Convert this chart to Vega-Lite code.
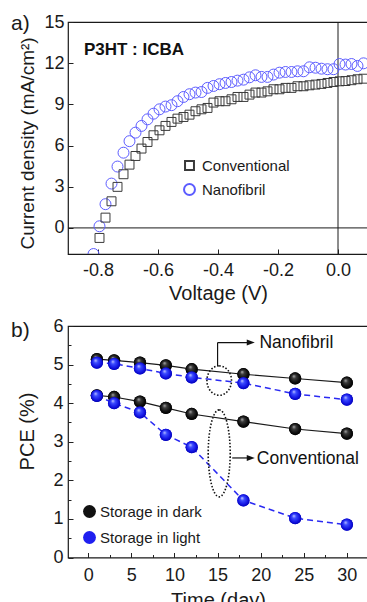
{
  "$schema": "https://vega.github.io/schema/vega-lite/v6.json",
  "padding": {"left": 10, "top": 11, "right": 0, "bottom": 0},
  "bounds": "flush",
  "spacing": 72,
  "resolve": {"scale": {"color": "independent", "shape": "independent", "size": "independent"}},
  "config": {
    "font": "Liberation Sans",
    "view": {"stroke": "#1a1a1a", "strokeWidth": 1.2},
    "axis": {
      "domain": false,
      "grid": false,
      "tickColor": "#222222",
      "tickWidth": 1,
      "tickSize": -5,
      "labelFont": "Liberation Sans",
      "labelFontSize": 18,
      "labelColor": "#1a1a1a",
      "labelOverlap": false,
      "titleFont": "Liberation Sans",
      "titleFontSize": 20,
      "titleFontWeight": "normal",
      "titleColor": "#1a1a1a"
    },
    "legend": {"labelFont": "Liberation Sans", "labelFontSize": 15, "labelColor": "#1a1a1a"}
  },
  "datasets": {
    "jv": [
      {"device": "Nanofibril", "V": -0.815, "J": -1.9},
      {"device": "Nanofibril", "V": -0.795, "J": 0.12},
      {"device": "Nanofibril", "V": -0.775, "J": 1.73},
      {"device": "Nanofibril", "V": -0.755, "J": 3.23},
      {"device": "Nanofibril", "V": -0.735, "J": 4.47},
      {"device": "Nanofibril", "V": -0.715, "J": 5.48},
      {"device": "Nanofibril", "V": -0.695, "J": 6.32},
      {"device": "Nanofibril", "V": -0.675, "J": 6.94},
      {"device": "Nanofibril", "V": -0.655, "J": 7.43},
      {"device": "Nanofibril", "V": -0.635, "J": 7.91},
      {"device": "Nanofibril", "V": -0.615, "J": 8.32},
      {"device": "Nanofibril", "V": -0.595, "J": 8.64},
      {"device": "Nanofibril", "V": -0.575, "J": 8.84},
      {"device": "Nanofibril", "V": -0.555, "J": 8.94},
      {"device": "Nanofibril", "V": -0.535, "J": 9.23},
      {"device": "Nanofibril", "V": -0.515, "J": 9.54},
      {"device": "Nanofibril", "V": -0.495, "J": 9.74},
      {"device": "Nanofibril", "V": -0.475, "J": 9.86},
      {"device": "Nanofibril", "V": -0.455, "J": 9.9},
      {"device": "Nanofibril", "V": -0.435, "J": 10.2},
      {"device": "Nanofibril", "V": -0.415, "J": 10.34},
      {"device": "Nanofibril", "V": -0.395, "J": 10.47},
      {"device": "Nanofibril", "V": -0.375, "J": 10.56},
      {"device": "Nanofibril", "V": -0.355, "J": 10.63},
      {"device": "Nanofibril", "V": -0.335, "J": 10.73},
      {"device": "Nanofibril", "V": -0.315, "J": 10.8},
      {"device": "Nanofibril", "V": -0.295, "J": 10.97},
      {"device": "Nanofibril", "V": -0.275, "J": 11.12},
      {"device": "Nanofibril", "V": -0.255, "J": 11.0},
      {"device": "Nanofibril", "V": -0.235, "J": 11.0},
      {"device": "Nanofibril", "V": -0.215, "J": 11.17},
      {"device": "Nanofibril", "V": -0.195, "J": 11.31},
      {"device": "Nanofibril", "V": -0.175, "J": 11.36},
      {"device": "Nanofibril", "V": -0.155, "J": 11.36},
      {"device": "Nanofibril", "V": -0.135, "J": 11.41},
      {"device": "Nanofibril", "V": -0.115, "J": 11.41},
      {"device": "Nanofibril", "V": -0.095, "J": 11.7},
      {"device": "Nanofibril", "V": -0.075, "J": 11.67},
      {"device": "Nanofibril", "V": -0.055, "J": 11.6},
      {"device": "Nanofibril", "V": -0.035, "J": 11.56},
      {"device": "Nanofibril", "V": -0.015, "J": 11.56},
      {"device": "Nanofibril", "V": 0.005, "J": 11.94},
      {"device": "Nanofibril", "V": 0.025, "J": 11.9},
      {"device": "Nanofibril", "V": 0.045, "J": 11.94},
      {"device": "Nanofibril", "V": 0.065, "J": 11.8},
      {"device": "Nanofibril", "V": 0.085, "J": 11.99},
      {"device": "Conventional", "V": -0.795, "J": -0.73},
      {"device": "Conventional", "V": -0.775, "J": 0.75},
      {"device": "Conventional", "V": -0.755, "J": 1.94},
      {"device": "Conventional", "V": -0.735, "J": 2.99},
      {"device": "Conventional", "V": -0.715, "J": 3.91},
      {"device": "Conventional", "V": -0.695, "J": 4.61},
      {"device": "Conventional", "V": -0.675, "J": 5.24},
      {"device": "Conventional", "V": -0.655, "J": 5.78},
      {"device": "Conventional", "V": -0.635, "J": 6.26},
      {"device": "Conventional", "V": -0.615, "J": 6.75},
      {"device": "Conventional", "V": -0.595, "J": 7.11},
      {"device": "Conventional", "V": -0.575, "J": 7.43},
      {"device": "Conventional", "V": -0.555, "J": 7.72},
      {"device": "Conventional", "V": -0.535, "J": 7.96},
      {"device": "Conventional", "V": -0.515, "J": 8.08},
      {"device": "Conventional", "V": -0.495, "J": 8.25},
      {"device": "Conventional", "V": -0.475, "J": 8.5},
      {"device": "Conventional", "V": -0.455, "J": 8.64},
      {"device": "Conventional", "V": -0.435, "J": 8.74},
      {"device": "Conventional", "V": -0.415, "J": 9.13},
      {"device": "Conventional", "V": -0.395, "J": 9.23},
      {"device": "Conventional", "V": -0.375, "J": 9.23},
      {"device": "Conventional", "V": -0.355, "J": 9.37},
      {"device": "Conventional", "V": -0.335, "J": 9.54},
      {"device": "Conventional", "V": -0.315, "J": 9.54},
      {"device": "Conventional", "V": -0.295, "J": 9.71},
      {"device": "Conventional", "V": -0.275, "J": 9.86},
      {"device": "Conventional", "V": -0.255, "J": 9.86},
      {"device": "Conventional", "V": -0.235, "J": 9.95},
      {"device": "Conventional", "V": -0.215, "J": 10.1},
      {"device": "Conventional", "V": -0.195, "J": 10.1},
      {"device": "Conventional", "V": -0.175, "J": 10.2},
      {"device": "Conventional", "V": -0.155, "J": 10.2},
      {"device": "Conventional", "V": -0.135, "J": 10.32},
      {"device": "Conventional", "V": -0.115, "J": 10.32},
      {"device": "Conventional", "V": -0.095, "J": 10.39},
      {"device": "Conventional", "V": -0.075, "J": 10.44},
      {"device": "Conventional", "V": -0.055, "J": 10.49},
      {"device": "Conventional", "V": -0.035, "J": 10.56},
      {"device": "Conventional", "V": -0.015, "J": 10.63},
      {"device": "Conventional", "V": 0.005, "J": 10.68},
      {"device": "Conventional", "V": 0.025, "J": 10.7},
      {"device": "Conventional", "V": 0.045, "J": 10.76},
      {"device": "Conventional", "V": 0.065, "J": 10.83},
      {"device": "Conventional", "V": 0.085, "J": 10.87}
    ],
    "pce": [
      {"storage": "Storage in dark", "device": "Nanofibril", "day": 1, "pce": 5.14},
      {"storage": "Storage in dark", "device": "Nanofibril", "day": 3, "pce": 5.11},
      {"storage": "Storage in dark", "device": "Nanofibril", "day": 6, "pce": 5.05},
      {"storage": "Storage in dark", "device": "Nanofibril", "day": 9, "pce": 4.98},
      {"storage": "Storage in dark", "device": "Nanofibril", "day": 12, "pce": 4.88},
      {"storage": "Storage in dark", "device": "Nanofibril", "day": 18, "pce": 4.75},
      {"storage": "Storage in dark", "device": "Nanofibril", "day": 24, "pce": 4.64},
      {"storage": "Storage in dark", "device": "Nanofibril", "day": 30, "pce": 4.53},
      {"storage": "Storage in dark", "device": "Conventional", "day": 1, "pce": 4.2},
      {"storage": "Storage in dark", "device": "Conventional", "day": 3, "pce": 4.16},
      {"storage": "Storage in dark", "device": "Conventional", "day": 6, "pce": 4.04},
      {"storage": "Storage in dark", "device": "Conventional", "day": 9, "pce": 3.88},
      {"storage": "Storage in dark", "device": "Conventional", "day": 12, "pce": 3.72},
      {"storage": "Storage in dark", "device": "Conventional", "day": 18, "pce": 3.52},
      {"storage": "Storage in dark", "device": "Conventional", "day": 24, "pce": 3.33},
      {"storage": "Storage in dark", "device": "Conventional", "day": 30, "pce": 3.21},
      {"storage": "Storage in light", "device": "Nanofibril", "day": 1, "pce": 5.05},
      {"storage": "Storage in light", "device": "Nanofibril", "day": 3, "pce": 5.02},
      {"storage": "Storage in light", "device": "Nanofibril", "day": 6, "pce": 4.9},
      {"storage": "Storage in light", "device": "Nanofibril", "day": 9, "pce": 4.77},
      {"storage": "Storage in light", "device": "Nanofibril", "day": 12, "pce": 4.67},
      {"storage": "Storage in light", "device": "Nanofibril", "day": 18, "pce": 4.52},
      {"storage": "Storage in light", "device": "Nanofibril", "day": 24, "pce": 4.24},
      {"storage": "Storage in light", "device": "Nanofibril", "day": 30, "pce": 4.09},
      {"storage": "Storage in light", "device": "Conventional", "day": 1, "pce": 4.19},
      {"storage": "Storage in light", "device": "Conventional", "day": 3, "pce": 4.0},
      {"storage": "Storage in light", "device": "Conventional", "day": 6, "pce": 3.76},
      {"storage": "Storage in light", "device": "Conventional", "day": 9, "pce": 3.18},
      {"storage": "Storage in light", "device": "Conventional", "day": 12, "pce": 2.86},
      {"storage": "Storage in light", "device": "Conventional", "day": 18, "pce": 1.48},
      {"storage": "Storage in light", "device": "Conventional", "day": 24, "pce": 1.02},
      {"storage": "Storage in light", "device": "Conventional", "day": 30, "pce": 0.85}
    ]
  },
  "vconcat": [
    {
      "width": 300,
      "height": 232,
      "layer": [
        {
          "data": {"values": [{}]},
          "mark": {"type": "rule", "color": "#1a1a1a", "strokeWidth": 1},
          "encoding": {"y": {"datum": 0, "type": "quantitative"}}
        },
        {
          "data": {"values": [{}]},
          "mark": {"type": "rule", "color": "#1a1a1a", "strokeWidth": 1},
          "encoding": {"x": {"datum": 0, "type": "quantitative"}}
        },
        {
          "data": {"name": "jv"},
          "mark": {"type": "point", "filled": false, "strokeWidth": 1, "opacity": 1, "clip": true},
          "encoding": {
            "x": {
              "field": "V",
              "type": "quantitative",
              "title": "Voltage (V)",
              "scale": {"domain": [-0.9, 0.1], "nice": false, "zero": false},
              "axis": {
                "values": [-0.8, -0.6, -0.4, -0.2, 0],
                "labelExpr": "datum.value === 0 ? '0.0' : '-' + format(-datum.value, '.1f')",
                "labelPadding": 12,
                "titlePadding": 4
              }
            },
            "y": {
              "field": "J",
              "type": "quantitative",
              "title": "Current density (mA/cm²)",
              "scale": {"domain": [-1.9, 15], "nice": false, "zero": false},
              "axis": {
                "values": [0, 3, 6, 9, 12, 15],
                "labelPadding": 9,
                "titlePadding": 6,
                "titleFontSize": 19,
                "titleY": 121
              }
            },
            "size": {
              "field": "device",
              "type": "nominal",
              "scale": {"domain": ["Conventional", "Nanofibril"], "range": [80, 120]},
              "legend": null
            },
            "color": {
              "field": "device",
              "type": "nominal",
              "scale": {"domain": ["Conventional", "Nanofibril"], "range": ["#3a3a3a", "#5c5cff"]},
              "legend": {
                "title": null,
                "orient": "none",
                "legendX": 114,
                "legendY": 136,
                "symbolSize": 170,
                "symbolStrokeWidth": 2,
                "rowPadding": 6,
                "labelOffset": 5,
                "padding": 0,
                "encode": {
                  "symbols": {
                    "update": {
                      "stroke": [
                        {"test": "datum.value === 'Nanofibril'", "value": "#1616cf"},
                        {"value": "#111111"}
                      ],
                      "size": {"value": 170}
                    }
                  }
                }
              }
            },
            "shape": {
              "field": "device",
              "type": "nominal",
              "scale": {"domain": ["Conventional", "Nanofibril"], "range": ["square", "circle"]},
              "legend": {
                "title": null,
                "orient": "none",
                "legendX": 114,
                "legendY": 136,
                "symbolSize": 170,
                "symbolStrokeWidth": 2,
                "rowPadding": 6,
                "labelOffset": 5,
                "padding": 0,
                "encode": {
                  "symbols": {
                    "update": {
                      "stroke": [
                        {"test": "datum.value === 'Nanofibril'", "value": "#1616cf"},
                        {"value": "#111111"}
                      ],
                      "size": {"value": 170}
                    }
                  }
                }
              }
            }
          }
        },
        {
          "data": {"values": [{}]},
          "mark": {
            "type": "text",
            "text": "P3HT : ICBA",
            "fontWeight": "bold",
            "fontSize": 17,
            "align": "left",
            "baseline": "alphabetic",
            "color": "#111111"
          },
          "encoding": {
            "x": {"datum": -0.847, "type": "quantitative"},
            "y": {"datum": 12.6, "type": "quantitative"}
          }
        },
        {
          "data": {"values": [{}]},
          "mark": {
            "type": "text",
            "text": "a)",
            "fontSize": 21,
            "align": "left",
            "baseline": "middle",
            "color": "#1a1a1a"
          },
          "encoding": {
            "x": {"datum": -1.09, "type": "quantitative"},
            "y": {"datum": 14.89, "type": "quantitative"}
          }
        }
      ]
    },
    {
      "width": 300,
      "height": 231.5,
      "encoding": {
        "x": {
          "field": "day",
          "type": "quantitative",
          "title": "Time (day)",
          "scale": {"domain": [-2.35, 32.45], "nice": false, "zero": false},
          "axis": {
            "values": [0, 2.5, 5, 7.5, 10, 12.5, 15, 17.5, 20, 22.5, 25, 27.5, 30],
            "labelExpr": "datum.value % 5 === 0 ? datum.label : ''",
            "tickSize": {"condition": {"test": "datum.value % 5 === 0", "value": -5}, "value": -3},
            "labelPadding": 14,
            "titlePadding": 4
          }
        },
        "y": {
          "field": "pce",
          "type": "quantitative",
          "title": "PCE (%)",
          "scale": {"domain": [0, 6], "nice": false, "zero": false},
          "axis": {
            "values": [0, 0.5, 1, 1.5, 2, 2.5, 3, 3.5, 4, 4.5, 5, 5.5, 6],
            "labelExpr": "datum.value % 1 === 0 ? format(datum.value, 'd') : ''",
            "tickSize": {"condition": {"test": "datum.value % 1 === 0", "value": -5}, "value": -3},
            "labelPadding": 10,
            "titlePadding": 15,
            "titleY": 105
          }
        }
      },
      "layer": [
        {
          "data": {"name": "pce"},
          "transform": [{"filter": "datum.storage === 'Storage in dark'"}],
          "mark": {"type": "line", "color": "#1a1a1a", "strokeWidth": 1.2},
          "encoding": {"detail": {"field": "device"}}
        },
        {
          "data": {"name": "pce"},
          "transform": [{"filter": "datum.storage === 'Storage in light'"}],
          "mark": {"type": "line", "color": "#2a2af2", "strokeWidth": 1.5, "strokeDash": [6, 4]},
          "encoding": {"detail": {"field": "device"}}
        },
        {
          "data": {"name": "pce"},
          "mark": {"type": "point", "filled": true, "size": 150, "opacity": 1, "strokeWidth": 0},
          "encoding": {
            "color": {
              "field": "storage",
              "type": "nominal",
              "scale": {"domain": ["Storage in dark", "Storage in light"], "range": ["#111111", "#1f1ff0"]},
              "legend": {
                "title": null,
                "orient": "none",
                "legendX": 14,
                "legendY": 178,
                "symbolType": "circle",
                "symbolSize": 165,
                "symbolStrokeWidth": 0,
                "rowPadding": 10,
                "labelOffset": 3,
                "padding": 0,
                "encode": {
                  "symbols": {
                    "update": {
                      "fill": [
                        {
                          "test": "datum.value === 'Storage in dark'",
                          "value": {
                            "gradient": "radial",
                            "x1": 0.38, "y1": 0.3, "r1": 0,
                            "x2": 0.5, "y2": 0.5, "r2": 0.55,
                            "stops": [
                              {"offset": 0, "color": "#b4b4b4"},
                              {"offset": 0.3, "color": "#3a3a3a"},
                              {"offset": 0.75, "color": "#0a0a0a"},
                              {"offset": 1, "color": "#000000"}
                            ]
                          }
                        },
                        {
                          "value": {
                            "gradient": "radial",
                            "x1": 0.38, "y1": 0.3, "r1": 0,
                            "x2": 0.5, "y2": 0.5, "r2": 0.55,
                            "stops": [
                              {"offset": 0, "color": "#cdd0ff"},
                              {"offset": 0.3, "color": "#3c4cff"},
                              {"offset": 0.75, "color": "#1010e0"},
                              {"offset": 1, "color": "#0000a0"}
                            ]
                          }
                        }
                      ]
                    }
                  }
                }
              }
            }
          }
        },
        {
          "data": {"name": "pce"},
          "mark": {"type": "point", "filled": true, "size": 150, "opacity": 1, "strokeWidth": 0},
          "encoding": {
            "fill": {
              "condition": {
                "test": "datum.storage === 'Storage in dark'",
                "value": {
                  "gradient": "radial",
                  "x1": 0.38, "y1": 0.3, "r1": 0,
                  "x2": 0.5, "y2": 0.5, "r2": 0.55,
                  "stops": [
                    {"offset": 0, "color": "#b4b4b4"},
                    {"offset": 0.3, "color": "#3a3a3a"},
                    {"offset": 0.75, "color": "#0a0a0a"},
                    {"offset": 1, "color": "#000000"}
                  ]
                }
              },
              "value": {
                "gradient": "radial",
                "x1": 0.38, "y1": 0.3, "r1": 0,
                "x2": 0.5, "y2": 0.5, "r2": 0.55,
                "stops": [
                  {"offset": 0, "color": "#cdd0ff"},
                  {"offset": 0.3, "color": "#3c4cff"},
                  {"offset": 0.75, "color": "#1010e0"},
                  {"offset": 1, "color": "#0000a0"}
                ]
              }
            }
          }
        },
        {
          "data": {"values": [{"day": 15.19, "pce": 4.585}]},
          "mark": {
            "type": "point",
            "shape": "M0,-1A0.837,1 0 1,1 0,1A0.837,1 0 1,1 0,-1Z",
            "size": 864,
            "filled": false,
            "opacity": 1,
            "stroke": "#111111",
            "strokeWidth": 1.6,
            "strokeDash": [1.5, 1.8]
          }
        },
        {
          "data": {"values": [{"day": 15.19, "pce": 2.7}]},
          "mark": {
            "type": "point",
            "shape": "M0,-1A0.253,1 0 1,1 0,1A0.253,1 0 1,1 0,-1Z",
            "size": 7569,
            "filled": false,
            "opacity": 1,
            "stroke": "#111111",
            "strokeWidth": 1.6,
            "strokeDash": [1.5, 1.8]
          }
        },
        {
          "data": {
            "values": [
              {"day": 15.0, "pce": 4.96, "day2": 15.0, "pce2": 5.57},
              {"day": 15.0, "pce": 5.57, "day2": 18.8, "pce2": 5.57},
              {"day": 16.7, "pce": 2.58, "day2": 18.8, "pce2": 2.58}
            ]
          },
          "mark": {"type": "rule", "color": "#111111", "strokeWidth": 1.2},
          "encoding": {
            "x2": {"field": "day2"},
            "y2": {"field": "pce2"}
          }
        },
        {
          "data": {"values": [{"day": 18.85, "pce": 5.57}, {"day": 18.85, "pce": 2.58}]},
          "mark": {
            "type": "point",
            "shape": "M-1,-0.75L1,0L-1,0.75Z",
            "size": 64,
            "filled": true,
            "opacity": 1,
            "color": "#111111"
          }
        },
        {
          "data": {
            "values": [
              {"day": 19.85, "pce": 5.57, "label": "Nanofibril"},
              {"day": 19.55, "pce": 2.56, "label": "Conventional"}
            ]
          },
          "mark": {
            "type": "text",
            "align": "left",
            "baseline": "middle",
            "fontSize": 17.5,
            "color": "#111111"
          },
          "encoding": {"text": {"field": "label"}}
        },
        {
          "data": {"values": [{"day": -8.96, "pce": 5.86, "label": "b)"}]},
          "mark": {
            "type": "text",
            "align": "left",
            "baseline": "middle",
            "fontSize": 21,
            "color": "#1a1a1a"
          },
          "encoding": {"text": {"field": "label"}}
        }
      ]
    }
  ]
}
